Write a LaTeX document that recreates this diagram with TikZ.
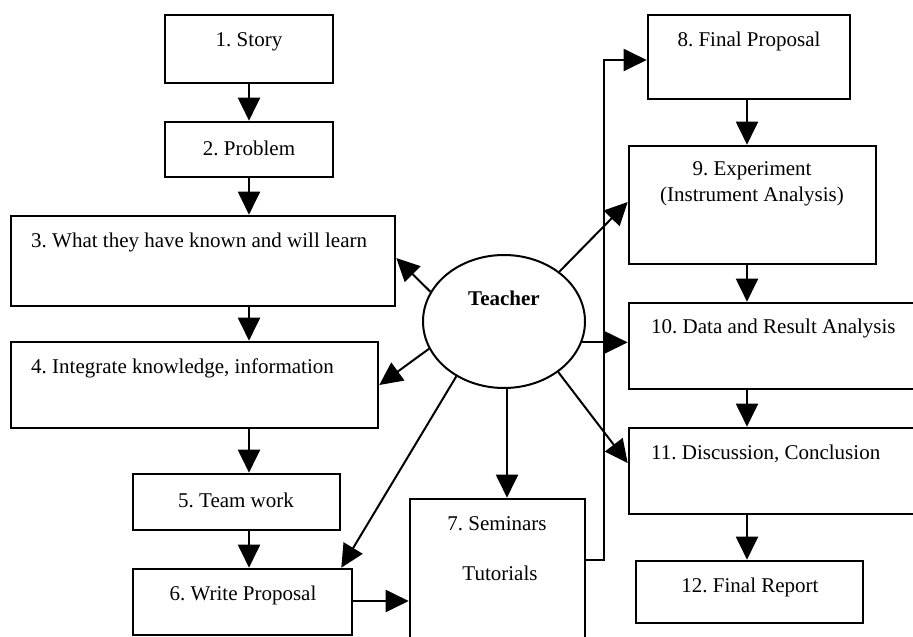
\documentclass[tikz,border=0pt]{standalone}
\usepackage{fontspec}
\setmainfont{Liberation Serif}
\usetikzlibrary{arrows.meta,shapes.geometric,fit,calc}
\frenchspacing
\begin{document}
\begin{tikzpicture}[x=1pt,y=-1pt,
  box/.style={draw, line width=2.6pt, inner sep=0pt, fit={#1}},
  lbl/.style={inner sep=0pt, font=\fontsize{21}{25}\selectfont},
  arr/.style={line width=2pt, -{Triangle[length=23pt,width=22pt]}},
  plain/.style={line width=2pt}]
\fill[white] (0,0) rectangle (913,637);
\useasboundingbox (0,0) rectangle (913,637);
% boxes
\node[box={(165,15) (333,83)}] (b1) {};
\node[box={(165,122) (333,177)}] (b2) {};
\node[box={(11,216) (395,306)}] (b3) {};
\node[box={(11,342) (378,428)}] (b4) {};
\node[box={(133,474) (340,530)}] (b5) {};
\node[box={(133,569) (352,635)}] (b6) {};
\node[box={(410,499) (585,655)}] (b7) {};
\node[box={(648,15) (850,99)}] (b8) {};
\node[box={(629,146) (876,264)}] (b9) {};
\node[box={(629,303) (925,389)}] (b10) {};
\node[box={(629,428) (925,514)}] (b11) {};
\node[box={(636,561) (863,623)}] (b12) {};
\node[draw, ellipse, line width=2pt, minimum width=162pt, minimum height=133pt, inner sep=0pt] (T) at (504,321.5) {};
% labels
\node[lbl] (t1) at (249,42) {1. Story};
\node[lbl] (t2) at (249,148) {2. Problem};
\node[lbl, anchor=west] (t3) at (31,242) {3. What they have known and will learn};
\node[lbl, anchor=west] (t4) at (31,368) {4. Integrate knowledge, information};
\node[lbl] (t5) at (236,500) {5. Team work};
\node[lbl] (t6) at (243,595) {6. Write Proposal};
\node[lbl] (t7a) at (497,524) {7. Seminars};
\node[lbl] (t7b) at (500,573) {Tutorials};
\node[lbl] (t8) at (749,41) {8. Final Proposal};
\node[lbl] (t9a) at (752,171) {9. Experiment};
\node[lbl] (t9b) at (752,196) {(Instrument Analysis)};
\node[lbl, anchor=west] (t10) at (651,328) {10. Data and Result Analysis};
\node[lbl, anchor=west] (t11) at (651,454) {11. Discussion, Conclusion};
\node[lbl] (t12) at (750,587) {12. Final Report};
\node[lbl, font=\fontsize{21}{25}\selectfont\bfseries] (tT) at (504,298) {Teacher};
% left chain
\draw[arr] (b1.south -| 249,0) -- (b2.north -| 249,0);
\draw[arr] (b2.south -| 249,0) -- (b3.north -| 249,0);
\draw[arr] (b3.south -| 249,0) -- (b4.north -| 249,0);
\draw[arr] (b4.south -| 249,0) -- (b5.north -| 249,0);
\draw[arr] (b5.south -| 249,0) -- (b6.north -| 249,0);
\draw[arr] (b6.east |- 0,601) -- (b7.west |- 0,601);
% right chain
\draw[arr] (b8.south -| 747,0) -- (b9.north -| 747,0);
\draw[arr] (b9.south -| 747,0) -- (b10.north -| 747,0);
\draw[arr] (b10.south -| 747,0) -- (b11.north -| 747,0);
\draw[arr] (b11.south -| 747,0) -- (b12.north -| 747,0);
% seminars to final proposal
\draw[arr] ([yshift=-62pt]b7.north east) -- ++(18,0) |- ([yshift=-3pt]b8.west);
% teacher spokes
\draw[arr] (T.158.8) -- ([yshift=3pt]b3.east);
\draw[arr] (T.200.6) -- (b4.east);
\draw[arr] (T.229.7) -- ([xshift=-12pt]b6.north east);
\draw[arr] (T.south -| 507,0) -- (b7.north -| 507,0);
\draw[arr] (T.42) -- ([yshift=3pt]b9.west);
\draw[arr] (T.-15) -- (T.-15 -| b10.west);
\draw[arr] (T.-43) -- ([yshift=8pt]b11.west);
\end{tikzpicture}
\end{document}
